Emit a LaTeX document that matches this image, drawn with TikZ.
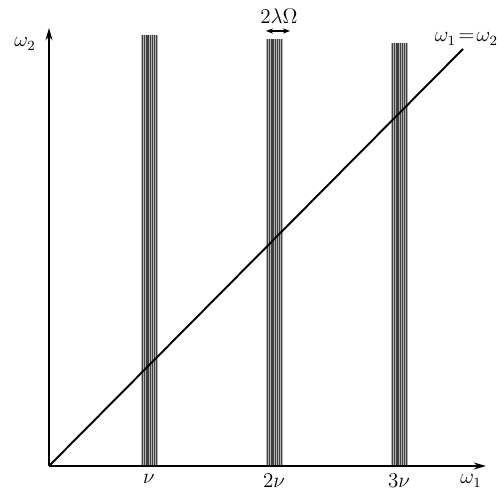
\documentclass[tikz,border=0pt]{standalone}
\usetikzlibrary{arrows.meta}
\begin{document}
\begin{tikzpicture}[x=0.02cm,y=-0.02cm,
  axis/.style={line width=0.9pt,-{Stealth[length=7pt,width=4pt]}},
  diag/.style={line width=1.1pt},
  lbl/.style={font=\large},
  band/.style={fill=black!30,draw=none}]
\useasboundingbox (0,0) rectangle (500,492);
\coordinate (O) at (49,466);
\coordinate (xend) at (486,466);
\coordinate (yend) at (49,28);
% bands
\foreach \c/\t/\n in {149/35/b1,274/39/b2,399/43/b3}{
  \fill[band] (\c-8.5,\t) rectangle (\c+8.5,466);
  \foreach \d/\w in {-7/0.4,-5/0.5,-3/0.4,-1/0.8,1/0.4,3/0.5,5/0.4,7/0.3}{
    \draw[line width=\w pt,black!75] (\c+\d,\t) -- (\c+\d,466);
  }
  \coordinate (\n) at (\c,466);
}
% axes
\draw[axis] (O) -- (xend);
\draw[axis] (O) -- (yend);
% diagonal
\coordinate (dend) at (463,49);
\draw[diag] (O) -- (dend);
% labels
\node[lbl] (w2) at (25,44) {$\omega_2$};
\node[lbl] (w1) at (471,481) {$\omega_1$};
\node[lbl,anchor=east,inner sep=1pt] (weq) at (500,39) {$\omega_1\!=\!\omega_2$};
\node[lbl,below=1pt] (n1) at (b1) {$\nu$};
\node[lbl,below=1pt] (n2) at (b2) {$2\nu$};
\node[lbl,below=1pt] (n3) at (b3) {$3\nu$};
\node[lbl] (wid) at (279,16) {$2\lambda\Omega$};
\coordinate (wa) at (266,31);
\coordinate (wb) at (290,31);
\draw[line width=0.8pt,{Stealth[length=4pt,width=3pt]}-{Stealth[length=4pt,width=3pt]}] (wa) -- (wb);
\end{tikzpicture}
\end{document}
